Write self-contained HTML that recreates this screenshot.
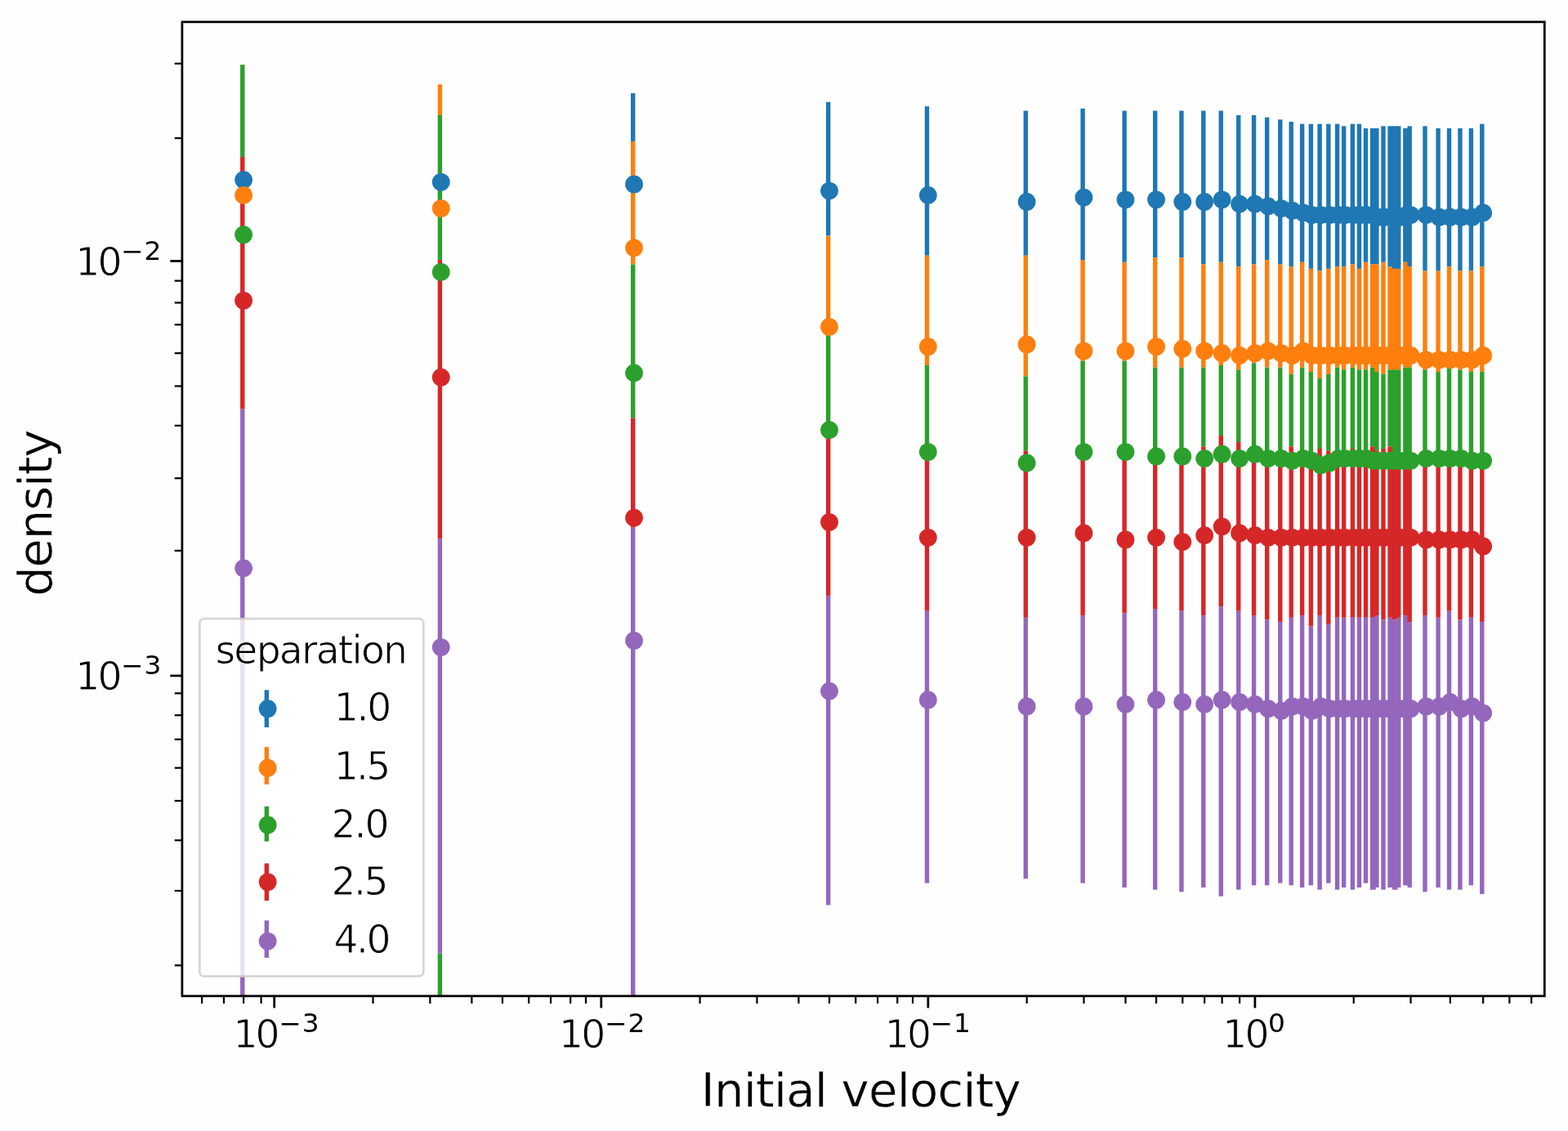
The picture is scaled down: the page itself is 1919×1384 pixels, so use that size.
<!DOCTYPE html>
<html lang="en"><head><meta charset="utf-8"><title>density vs initial velocity</title>
<style>html,body{margin:0;padding:0;background:#fefefe;}svg{display:block;}</style></head>
<body>
<svg width="1919" height="1384" viewBox="0 0 1919 1384">
<rect x="0" y="0" width="1919" height="1384" fill="#fefefe"/>
<g>
<g id="bars" shape-rendering="auto">
<rect x="294.07" y="79.16" width="5.40" height="112.77" fill="#2ca02c"/>
<rect x="294.07" y="191.93" width="5.40" height="308.77" fill="#d62728"/>
<rect x="294.07" y="500.70" width="5.40" height="718.14" fill="#9467bd"/>
<rect x="535.72" y="103.32" width="5.40" height="37.59" fill="#ff7f0e"/>
<rect x="535.72" y="140.91" width="5.40" height="177.21" fill="#2ca02c"/>
<rect x="535.72" y="318.12" width="5.40" height="341.00" fill="#d62728"/>
<rect x="535.72" y="659.12" width="5.40" height="507.46" fill="#9467bd"/>
<rect x="535.72" y="1166.58" width="5.40" height="52.26" fill="#2ca02c"/>
<rect x="772.00" y="114.06" width="5.40" height="59.07" fill="#1f77b4"/>
<rect x="772.00" y="173.13" width="5.40" height="150.36" fill="#ff7f0e"/>
<rect x="772.00" y="323.49" width="5.40" height="187.95" fill="#2ca02c"/>
<rect x="772.00" y="511.44" width="5.40" height="134.25" fill="#d62728"/>
<rect x="772.00" y="645.69" width="5.40" height="573.15" fill="#9467bd"/>
<rect x="1010.96" y="124.80" width="5.40" height="163.78" fill="#1f77b4"/>
<rect x="1010.96" y="288.59" width="5.40" height="120.83" fill="#ff7f0e"/>
<rect x="1010.96" y="409.41" width="5.40" height="126.20" fill="#2ca02c"/>
<rect x="1010.96" y="535.61" width="5.40" height="193.32" fill="#d62728"/>
<rect x="1010.96" y="728.93" width="5.40" height="378.59" fill="#9467bd"/>
<rect x="1131.79" y="130.17" width="5.40" height="182.58" fill="#1f77b4"/>
<rect x="1131.79" y="312.75" width="5.40" height="134.25" fill="#ff7f0e"/>
<rect x="1131.79" y="447.00" width="5.40" height="115.46" fill="#2ca02c"/>
<rect x="1131.79" y="562.46" width="5.40" height="185.26" fill="#d62728"/>
<rect x="1131.79" y="747.72" width="5.40" height="332.94" fill="#9467bd"/>
<rect x="1252.62" y="135.54" width="5.40" height="177.21" fill="#1f77b4"/>
<rect x="1252.62" y="312.75" width="5.40" height="147.68" fill="#ff7f0e"/>
<rect x="1252.62" y="460.43" width="5.40" height="91.29" fill="#2ca02c"/>
<rect x="1252.62" y="551.72" width="5.40" height="204.06" fill="#d62728"/>
<rect x="1252.62" y="755.78" width="5.40" height="319.51" fill="#9467bd"/>
<rect x="1322.42" y="132.86" width="5.40" height="185.27" fill="#1f77b4"/>
<rect x="1322.42" y="318.12" width="5.40" height="123.51" fill="#ff7f0e"/>
<rect x="1322.42" y="441.63" width="5.40" height="102.03" fill="#2ca02c"/>
<rect x="1322.42" y="543.66" width="5.40" height="209.43" fill="#d62728"/>
<rect x="1322.42" y="753.09" width="5.40" height="327.57" fill="#9467bd"/>
<rect x="1373.44" y="135.54" width="5.40" height="185.27" fill="#1f77b4"/>
<rect x="1373.44" y="320.81" width="5.40" height="120.82" fill="#ff7f0e"/>
<rect x="1373.44" y="441.63" width="5.40" height="110.09" fill="#2ca02c"/>
<rect x="1373.44" y="551.72" width="5.40" height="198.69" fill="#d62728"/>
<rect x="1373.44" y="750.41" width="5.40" height="335.62" fill="#9467bd"/>
<rect x="1411.03" y="135.54" width="5.40" height="179.90" fill="#1f77b4"/>
<rect x="1411.03" y="315.44" width="5.40" height="134.25" fill="#ff7f0e"/>
<rect x="1411.03" y="449.69" width="5.40" height="107.40" fill="#2ca02c"/>
<rect x="1411.03" y="557.09" width="5.40" height="187.95" fill="#d62728"/>
<rect x="1411.03" y="745.04" width="5.40" height="343.68" fill="#9467bd"/>
<rect x="1443.25" y="135.54" width="5.40" height="179.90" fill="#1f77b4"/>
<rect x="1443.25" y="315.44" width="5.40" height="134.25" fill="#ff7f0e"/>
<rect x="1443.25" y="449.69" width="5.40" height="107.40" fill="#2ca02c"/>
<rect x="1443.25" y="557.09" width="5.40" height="190.63" fill="#d62728"/>
<rect x="1443.25" y="747.72" width="5.40" height="343.68" fill="#9467bd"/>
<rect x="1470.10" y="135.54" width="5.40" height="187.95" fill="#1f77b4"/>
<rect x="1470.10" y="323.49" width="5.40" height="126.19" fill="#ff7f0e"/>
<rect x="1470.10" y="449.69" width="5.40" height="96.66" fill="#2ca02c"/>
<rect x="1470.10" y="546.35" width="5.40" height="206.75" fill="#d62728"/>
<rect x="1470.10" y="753.09" width="5.40" height="332.94" fill="#9467bd"/>
<rect x="1491.58" y="135.54" width="5.40" height="185.27" fill="#1f77b4"/>
<rect x="1491.58" y="320.81" width="5.40" height="126.19" fill="#ff7f0e"/>
<rect x="1491.58" y="447.00" width="5.40" height="85.92" fill="#2ca02c"/>
<rect x="1491.58" y="532.92" width="5.40" height="209.43" fill="#d62728"/>
<rect x="1491.58" y="742.35" width="5.40" height="354.42" fill="#9467bd"/>
<rect x="1513.06" y="140.91" width="5.40" height="185.27" fill="#1f77b4"/>
<rect x="1513.06" y="326.18" width="5.40" height="126.19" fill="#ff7f0e"/>
<rect x="1513.06" y="452.37" width="5.40" height="88.61" fill="#2ca02c"/>
<rect x="1513.06" y="540.98" width="5.40" height="206.75" fill="#d62728"/>
<rect x="1513.06" y="747.72" width="5.40" height="340.99" fill="#9467bd"/>
<rect x="1531.86" y="140.91" width="5.40" height="182.58" fill="#1f77b4"/>
<rect x="1531.86" y="323.49" width="5.40" height="120.82" fill="#ff7f0e"/>
<rect x="1531.86" y="444.32" width="5.40" height="107.40" fill="#2ca02c"/>
<rect x="1531.86" y="551.72" width="5.40" height="201.38" fill="#d62728"/>
<rect x="1531.86" y="753.09" width="5.40" height="330.25" fill="#9467bd"/>
<rect x="1547.97" y="143.60" width="5.40" height="174.53" fill="#1f77b4"/>
<rect x="1547.97" y="318.12" width="5.40" height="131.56" fill="#ff7f0e"/>
<rect x="1547.97" y="449.69" width="5.40" height="104.72" fill="#2ca02c"/>
<rect x="1547.97" y="554.40" width="5.40" height="204.06" fill="#d62728"/>
<rect x="1547.97" y="758.46" width="5.40" height="324.88" fill="#9467bd"/>
<rect x="1564.08" y="146.28" width="5.40" height="177.21" fill="#1f77b4"/>
<rect x="1564.08" y="323.49" width="5.40" height="126.19" fill="#ff7f0e"/>
<rect x="1564.08" y="449.69" width="5.40" height="104.72" fill="#2ca02c"/>
<rect x="1564.08" y="554.40" width="5.40" height="206.75" fill="#d62728"/>
<rect x="1564.08" y="761.15" width="5.40" height="319.52" fill="#9467bd"/>
<rect x="1577.50" y="148.97" width="5.40" height="177.21" fill="#1f77b4"/>
<rect x="1577.50" y="326.18" width="5.40" height="131.56" fill="#ff7f0e"/>
<rect x="1577.50" y="457.74" width="5.40" height="88.61" fill="#2ca02c"/>
<rect x="1577.50" y="546.35" width="5.40" height="209.43" fill="#d62728"/>
<rect x="1577.50" y="755.78" width="5.40" height="327.57" fill="#9467bd"/>
<rect x="1590.92" y="151.65" width="5.40" height="169.16" fill="#1f77b4"/>
<rect x="1590.92" y="320.81" width="5.40" height="128.88" fill="#ff7f0e"/>
<rect x="1590.92" y="449.69" width="5.40" height="104.72" fill="#2ca02c"/>
<rect x="1590.92" y="554.40" width="5.40" height="198.69" fill="#d62728"/>
<rect x="1590.92" y="753.09" width="5.40" height="332.94" fill="#9467bd"/>
<rect x="1601.66" y="151.65" width="5.40" height="177.21" fill="#1f77b4"/>
<rect x="1601.66" y="328.86" width="5.40" height="126.19" fill="#ff7f0e"/>
<rect x="1601.66" y="455.06" width="5.40" height="102.03" fill="#2ca02c"/>
<rect x="1601.66" y="557.09" width="5.40" height="209.43" fill="#d62728"/>
<rect x="1601.66" y="766.52" width="5.40" height="316.83" fill="#9467bd"/>
<rect x="1612.40" y="151.65" width="5.40" height="179.90" fill="#1f77b4"/>
<rect x="1612.40" y="331.55" width="5.40" height="131.56" fill="#ff7f0e"/>
<rect x="1612.40" y="463.11" width="5.40" height="85.92" fill="#2ca02c"/>
<rect x="1612.40" y="549.03" width="5.40" height="204.06" fill="#d62728"/>
<rect x="1612.40" y="753.09" width="5.40" height="335.62" fill="#9467bd"/>
<rect x="1623.14" y="151.65" width="5.40" height="177.21" fill="#1f77b4"/>
<rect x="1623.14" y="328.86" width="5.40" height="128.88" fill="#ff7f0e"/>
<rect x="1623.14" y="457.74" width="5.40" height="93.98" fill="#2ca02c"/>
<rect x="1623.14" y="551.72" width="5.40" height="212.12" fill="#d62728"/>
<rect x="1623.14" y="763.83" width="5.40" height="316.83" fill="#9467bd"/>
<rect x="1633.88" y="151.65" width="5.40" height="174.53" fill="#1f77b4"/>
<rect x="1633.88" y="326.18" width="5.40" height="123.51" fill="#ff7f0e"/>
<rect x="1633.88" y="449.69" width="5.40" height="104.72" fill="#2ca02c"/>
<rect x="1633.88" y="554.40" width="5.40" height="201.38" fill="#d62728"/>
<rect x="1633.88" y="755.78" width="5.40" height="332.94" fill="#9467bd"/>
<rect x="1641.94" y="154.34" width="5.40" height="171.84" fill="#1f77b4"/>
<rect x="1641.94" y="326.18" width="5.40" height="126.19" fill="#ff7f0e"/>
<rect x="1641.94" y="452.37" width="5.40" height="102.03" fill="#2ca02c"/>
<rect x="1641.94" y="554.40" width="5.40" height="201.38" fill="#d62728"/>
<rect x="1641.94" y="755.78" width="5.40" height="330.25" fill="#9467bd"/>
<rect x="1652.68" y="151.65" width="5.40" height="171.84" fill="#1f77b4"/>
<rect x="1652.68" y="323.49" width="5.40" height="126.19" fill="#ff7f0e"/>
<rect x="1652.68" y="449.69" width="5.40" height="99.35" fill="#2ca02c"/>
<rect x="1652.68" y="549.03" width="5.40" height="206.75" fill="#d62728"/>
<rect x="1652.68" y="755.78" width="5.40" height="332.94" fill="#9467bd"/>
<rect x="1660.74" y="151.65" width="5.40" height="177.21" fill="#1f77b4"/>
<rect x="1660.74" y="328.86" width="5.40" height="123.51" fill="#ff7f0e"/>
<rect x="1660.74" y="452.37" width="5.40" height="102.03" fill="#2ca02c"/>
<rect x="1660.74" y="554.40" width="5.40" height="201.38" fill="#d62728"/>
<rect x="1660.74" y="755.78" width="5.40" height="330.25" fill="#9467bd"/>
<rect x="1668.79" y="157.02" width="5.40" height="163.79" fill="#1f77b4"/>
<rect x="1668.79" y="320.81" width="5.40" height="131.56" fill="#ff7f0e"/>
<rect x="1668.79" y="452.37" width="5.40" height="102.03" fill="#2ca02c"/>
<rect x="1668.79" y="554.40" width="5.40" height="201.38" fill="#d62728"/>
<rect x="1668.79" y="755.78" width="5.40" height="324.89" fill="#9467bd"/>
<rect x="1676.85" y="157.02" width="6.87" height="166.47" fill="#1f77b4"/>
<rect x="1676.85" y="323.49" width="6.87" height="126.19" fill="#ff7f0e"/>
<rect x="1676.85" y="449.69" width="6.87" height="96.66" fill="#2ca02c"/>
<rect x="1676.85" y="546.35" width="6.87" height="209.43" fill="#d62728"/>
<rect x="1676.85" y="755.78" width="6.87" height="332.94" fill="#9467bd"/>
<rect x="1682.22" y="157.02" width="5.40" height="166.47" fill="#1f77b4"/>
<rect x="1682.22" y="323.49" width="5.40" height="131.56" fill="#ff7f0e"/>
<rect x="1682.22" y="455.06" width="5.40" height="96.66" fill="#2ca02c"/>
<rect x="1682.22" y="551.72" width="5.40" height="201.38" fill="#d62728"/>
<rect x="1682.22" y="753.09" width="5.40" height="332.94" fill="#9467bd"/>
<rect x="1690.27" y="154.34" width="5.40" height="166.47" fill="#1f77b4"/>
<rect x="1690.27" y="320.81" width="5.40" height="136.94" fill="#ff7f0e"/>
<rect x="1690.27" y="457.74" width="5.40" height="91.29" fill="#2ca02c"/>
<rect x="1690.27" y="549.03" width="5.40" height="209.43" fill="#d62728"/>
<rect x="1690.27" y="758.46" width="5.40" height="330.25" fill="#9467bd"/>
<rect x="1698.33" y="154.34" width="6.87" height="171.84" fill="#1f77b4"/>
<rect x="1698.33" y="326.18" width="6.87" height="126.19" fill="#ff7f0e"/>
<rect x="1698.33" y="452.37" width="6.87" height="93.98" fill="#2ca02c"/>
<rect x="1698.33" y="546.35" width="6.87" height="209.43" fill="#d62728"/>
<rect x="1698.33" y="755.78" width="6.87" height="330.25" fill="#9467bd"/>
<rect x="1703.70" y="154.34" width="6.87" height="174.53" fill="#1f77b4"/>
<rect x="1703.70" y="328.86" width="6.87" height="123.51" fill="#ff7f0e"/>
<rect x="1703.70" y="452.37" width="6.87" height="102.03" fill="#2ca02c"/>
<rect x="1703.70" y="554.40" width="6.87" height="204.06" fill="#d62728"/>
<rect x="1703.70" y="758.46" width="6.87" height="330.25" fill="#9467bd"/>
<rect x="1709.07" y="154.34" width="5.40" height="174.53" fill="#1f77b4"/>
<rect x="1709.07" y="328.86" width="5.40" height="123.51" fill="#ff7f0e"/>
<rect x="1709.07" y="452.37" width="5.40" height="102.03" fill="#2ca02c"/>
<rect x="1709.07" y="554.40" width="5.40" height="201.38" fill="#d62728"/>
<rect x="1709.07" y="755.78" width="5.40" height="330.25" fill="#9467bd"/>
<rect x="1717.12" y="157.02" width="6.87" height="163.79" fill="#1f77b4"/>
<rect x="1717.12" y="320.81" width="6.87" height="128.88" fill="#ff7f0e"/>
<rect x="1717.12" y="449.69" width="6.87" height="104.72" fill="#2ca02c"/>
<rect x="1717.12" y="554.40" width="6.87" height="198.69" fill="#d62728"/>
<rect x="1717.12" y="753.09" width="6.87" height="330.25" fill="#9467bd"/>
<rect x="1722.49" y="154.34" width="5.40" height="171.84" fill="#1f77b4"/>
<rect x="1722.49" y="326.18" width="5.40" height="123.51" fill="#ff7f0e"/>
<rect x="1722.49" y="449.69" width="5.40" height="104.72" fill="#2ca02c"/>
<rect x="1722.49" y="554.40" width="5.40" height="206.75" fill="#d62728"/>
<rect x="1722.49" y="761.15" width="5.40" height="324.88" fill="#9467bd"/>
<rect x="1741.29" y="154.34" width="5.40" height="177.21" fill="#1f77b4"/>
<rect x="1741.29" y="331.55" width="5.40" height="120.82" fill="#ff7f0e"/>
<rect x="1741.29" y="452.37" width="5.40" height="99.35" fill="#2ca02c"/>
<rect x="1741.29" y="551.72" width="5.40" height="201.38" fill="#d62728"/>
<rect x="1741.29" y="753.09" width="5.40" height="338.31" fill="#9467bd"/>
<rect x="1757.39" y="157.02" width="5.40" height="174.53" fill="#1f77b4"/>
<rect x="1757.39" y="331.55" width="5.40" height="123.51" fill="#ff7f0e"/>
<rect x="1757.39" y="455.06" width="5.40" height="99.35" fill="#2ca02c"/>
<rect x="1757.39" y="554.40" width="5.40" height="201.38" fill="#d62728"/>
<rect x="1757.39" y="755.78" width="5.40" height="330.25" fill="#9467bd"/>
<rect x="1770.82" y="157.02" width="5.40" height="169.16" fill="#1f77b4"/>
<rect x="1770.82" y="326.18" width="5.40" height="123.51" fill="#ff7f0e"/>
<rect x="1770.82" y="449.69" width="5.40" height="104.72" fill="#2ca02c"/>
<rect x="1770.82" y="554.40" width="5.40" height="193.32" fill="#d62728"/>
<rect x="1770.82" y="747.72" width="5.40" height="340.99" fill="#9467bd"/>
<rect x="1784.25" y="157.02" width="5.40" height="174.53" fill="#1f77b4"/>
<rect x="1784.25" y="331.55" width="5.40" height="120.82" fill="#ff7f0e"/>
<rect x="1784.25" y="452.37" width="5.40" height="102.03" fill="#2ca02c"/>
<rect x="1784.25" y="554.40" width="5.40" height="204.06" fill="#d62728"/>
<rect x="1784.25" y="758.46" width="5.40" height="330.25" fill="#9467bd"/>
<rect x="1797.67" y="157.02" width="5.40" height="174.53" fill="#1f77b4"/>
<rect x="1797.67" y="331.55" width="5.40" height="123.51" fill="#ff7f0e"/>
<rect x="1797.67" y="455.06" width="5.40" height="99.35" fill="#2ca02c"/>
<rect x="1797.67" y="554.40" width="5.40" height="201.38" fill="#d62728"/>
<rect x="1797.67" y="755.78" width="5.40" height="327.57" fill="#9467bd"/>
<rect x="1811.10" y="151.65" width="5.40" height="174.53" fill="#1f77b4"/>
<rect x="1811.10" y="326.18" width="5.40" height="128.88" fill="#ff7f0e"/>
<rect x="1811.10" y="455.06" width="5.40" height="99.35" fill="#2ca02c"/>
<rect x="1811.10" y="554.40" width="5.40" height="206.75" fill="#d62728"/>
<rect x="1811.10" y="761.15" width="5.40" height="332.94" fill="#9467bd"/>
</g>
<g id="markers">
<g fill="#1f77b4">
<circle cx="298.11" cy="220.12" r="10.9"/>
<circle cx="539.76" cy="222.81" r="10.9"/>
<circle cx="776.04" cy="225.49" r="10.9"/>
<circle cx="1015.00" cy="233.54" r="10.9"/>
<circle cx="1135.83" cy="238.91" r="10.9"/>
<circle cx="1256.65" cy="246.97" r="10.9"/>
<circle cx="1326.46" cy="241.60" r="10.9"/>
<circle cx="1377.48" cy="244.28" r="10.9"/>
<circle cx="1415.07" cy="244.28" r="10.9"/>
<circle cx="1447.29" cy="246.97" r="10.9"/>
<circle cx="1474.14" cy="246.97" r="10.9"/>
<circle cx="1495.62" cy="244.28" r="10.9"/>
<circle cx="1517.10" cy="249.66" r="10.9"/>
<circle cx="1535.89" cy="249.66" r="10.9"/>
<circle cx="1552.01" cy="252.34" r="10.9"/>
<circle cx="1568.12" cy="255.03" r="10.9"/>
<circle cx="1581.54" cy="257.71" r="10.9"/>
<circle cx="1594.96" cy="260.39" r="10.9"/>
<circle cx="1605.70" cy="263.08" r="10.9"/>
<circle cx="1616.44" cy="263.08" r="10.9"/>
<circle cx="1627.18" cy="263.08" r="10.9"/>
<circle cx="1637.92" cy="263.08" r="10.9"/>
<circle cx="1645.98" cy="263.08" r="10.9"/>
<circle cx="1656.72" cy="263.08" r="10.9"/>
<circle cx="1664.78" cy="263.08" r="10.9"/>
<circle cx="1672.83" cy="263.08" r="10.9"/>
<circle cx="1680.88" cy="263.08" r="10.9"/>
<circle cx="1686.26" cy="265.76" r="10.9"/>
<circle cx="1694.31" cy="265.76" r="10.9"/>
<circle cx="1702.37" cy="265.76" r="10.9"/>
<circle cx="1707.74" cy="265.76" r="10.9"/>
<circle cx="1713.11" cy="265.76" r="10.9"/>
<circle cx="1721.16" cy="263.08" r="10.9"/>
<circle cx="1726.53" cy="263.08" r="10.9"/>
<circle cx="1745.33" cy="263.08" r="10.9"/>
<circle cx="1761.43" cy="265.76" r="10.9"/>
<circle cx="1774.86" cy="265.76" r="10.9"/>
<circle cx="1788.29" cy="265.76" r="10.9"/>
<circle cx="1801.71" cy="265.76" r="10.9"/>
<circle cx="1815.13" cy="260.39" r="10.9"/>
</g>
<g fill="#ff7f0e">
<circle cx="298.11" cy="238.91" r="10.9"/>
<circle cx="539.76" cy="255.03" r="10.9"/>
<circle cx="776.04" cy="303.36" r="10.9"/>
<circle cx="1015.00" cy="400.01" r="10.9"/>
<circle cx="1135.83" cy="424.18" r="10.9"/>
<circle cx="1256.65" cy="421.50" r="10.9"/>
<circle cx="1326.46" cy="429.55" r="10.9"/>
<circle cx="1377.48" cy="429.55" r="10.9"/>
<circle cx="1415.07" cy="424.18" r="10.9"/>
<circle cx="1447.29" cy="426.87" r="10.9"/>
<circle cx="1474.14" cy="429.55" r="10.9"/>
<circle cx="1495.62" cy="432.24" r="10.9"/>
<circle cx="1517.10" cy="434.92" r="10.9"/>
<circle cx="1535.89" cy="432.24" r="10.9"/>
<circle cx="1552.01" cy="429.55" r="10.9"/>
<circle cx="1568.12" cy="432.24" r="10.9"/>
<circle cx="1581.54" cy="434.92" r="10.9"/>
<circle cx="1594.96" cy="429.55" r="10.9"/>
<circle cx="1605.70" cy="434.92" r="10.9"/>
<circle cx="1616.44" cy="434.92" r="10.9"/>
<circle cx="1627.18" cy="434.92" r="10.9"/>
<circle cx="1637.92" cy="434.92" r="10.9"/>
<circle cx="1645.98" cy="434.92" r="10.9"/>
<circle cx="1656.72" cy="434.92" r="10.9"/>
<circle cx="1664.78" cy="434.92" r="10.9"/>
<circle cx="1672.83" cy="434.92" r="10.9"/>
<circle cx="1680.88" cy="434.92" r="10.9"/>
<circle cx="1686.26" cy="434.92" r="10.9"/>
<circle cx="1694.31" cy="434.92" r="10.9"/>
<circle cx="1702.37" cy="434.92" r="10.9"/>
<circle cx="1707.74" cy="434.92" r="10.9"/>
<circle cx="1713.11" cy="434.92" r="10.9"/>
<circle cx="1721.16" cy="434.92" r="10.9"/>
<circle cx="1726.53" cy="434.92" r="10.9"/>
<circle cx="1745.33" cy="440.29" r="10.9"/>
<circle cx="1761.43" cy="440.29" r="10.9"/>
<circle cx="1774.86" cy="440.29" r="10.9"/>
<circle cx="1788.29" cy="440.29" r="10.9"/>
<circle cx="1801.71" cy="440.29" r="10.9"/>
<circle cx="1815.13" cy="434.92" r="10.9"/>
</g>
<g fill="#2ca02c">
<circle cx="298.11" cy="287.25" r="10.9"/>
<circle cx="539.76" cy="332.89" r="10.9"/>
<circle cx="776.04" cy="456.40" r="10.9"/>
<circle cx="1015.00" cy="526.21" r="10.9"/>
<circle cx="1135.83" cy="553.06" r="10.9"/>
<circle cx="1256.65" cy="566.49" r="10.9"/>
<circle cx="1326.46" cy="553.06" r="10.9"/>
<circle cx="1377.48" cy="553.06" r="10.9"/>
<circle cx="1415.07" cy="558.43" r="10.9"/>
<circle cx="1447.29" cy="558.43" r="10.9"/>
<circle cx="1474.14" cy="561.12" r="10.9"/>
<circle cx="1495.62" cy="555.75" r="10.9"/>
<circle cx="1517.10" cy="561.12" r="10.9"/>
<circle cx="1535.89" cy="555.75" r="10.9"/>
<circle cx="1552.01" cy="561.12" r="10.9"/>
<circle cx="1568.12" cy="561.12" r="10.9"/>
<circle cx="1581.54" cy="563.80" r="10.9"/>
<circle cx="1594.96" cy="561.12" r="10.9"/>
<circle cx="1605.70" cy="563.80" r="10.9"/>
<circle cx="1616.44" cy="569.17" r="10.9"/>
<circle cx="1627.18" cy="566.49" r="10.9"/>
<circle cx="1637.92" cy="561.12" r="10.9"/>
<circle cx="1645.98" cy="561.12" r="10.9"/>
<circle cx="1656.72" cy="561.12" r="10.9"/>
<circle cx="1664.78" cy="561.12" r="10.9"/>
<circle cx="1672.83" cy="561.12" r="10.9"/>
<circle cx="1680.88" cy="563.80" r="10.9"/>
<circle cx="1686.26" cy="563.80" r="10.9"/>
<circle cx="1694.31" cy="563.80" r="10.9"/>
<circle cx="1702.37" cy="563.80" r="10.9"/>
<circle cx="1707.74" cy="563.80" r="10.9"/>
<circle cx="1713.11" cy="563.80" r="10.9"/>
<circle cx="1721.16" cy="563.80" r="10.9"/>
<circle cx="1726.53" cy="563.80" r="10.9"/>
<circle cx="1745.33" cy="561.12" r="10.9"/>
<circle cx="1761.43" cy="561.12" r="10.9"/>
<circle cx="1774.86" cy="561.12" r="10.9"/>
<circle cx="1788.29" cy="561.12" r="10.9"/>
<circle cx="1801.71" cy="563.80" r="10.9"/>
<circle cx="1815.13" cy="563.80" r="10.9"/>
</g>
<g fill="#d62728">
<circle cx="298.11" cy="367.80" r="10.9"/>
<circle cx="539.76" cy="461.77" r="10.9"/>
<circle cx="776.04" cy="633.61" r="10.9"/>
<circle cx="1015.00" cy="638.98" r="10.9"/>
<circle cx="1135.83" cy="657.78" r="10.9"/>
<circle cx="1256.65" cy="657.78" r="10.9"/>
<circle cx="1326.46" cy="652.41" r="10.9"/>
<circle cx="1377.48" cy="660.46" r="10.9"/>
<circle cx="1415.07" cy="657.78" r="10.9"/>
<circle cx="1447.29" cy="663.15" r="10.9"/>
<circle cx="1474.14" cy="655.09" r="10.9"/>
<circle cx="1495.62" cy="644.35" r="10.9"/>
<circle cx="1517.10" cy="652.41" r="10.9"/>
<circle cx="1535.89" cy="655.09" r="10.9"/>
<circle cx="1552.01" cy="657.78" r="10.9"/>
<circle cx="1568.12" cy="657.78" r="10.9"/>
<circle cx="1581.54" cy="657.78" r="10.9"/>
<circle cx="1594.96" cy="657.78" r="10.9"/>
<circle cx="1605.70" cy="657.78" r="10.9"/>
<circle cx="1616.44" cy="657.78" r="10.9"/>
<circle cx="1627.18" cy="657.78" r="10.9"/>
<circle cx="1637.92" cy="657.78" r="10.9"/>
<circle cx="1645.98" cy="657.78" r="10.9"/>
<circle cx="1656.72" cy="657.78" r="10.9"/>
<circle cx="1664.78" cy="657.78" r="10.9"/>
<circle cx="1672.83" cy="657.78" r="10.9"/>
<circle cx="1680.88" cy="657.78" r="10.9"/>
<circle cx="1686.26" cy="657.78" r="10.9"/>
<circle cx="1694.31" cy="657.78" r="10.9"/>
<circle cx="1702.37" cy="657.78" r="10.9"/>
<circle cx="1707.74" cy="657.78" r="10.9"/>
<circle cx="1713.11" cy="657.78" r="10.9"/>
<circle cx="1721.16" cy="657.78" r="10.9"/>
<circle cx="1726.53" cy="657.78" r="10.9"/>
<circle cx="1745.33" cy="660.46" r="10.9"/>
<circle cx="1761.43" cy="660.46" r="10.9"/>
<circle cx="1774.86" cy="660.46" r="10.9"/>
<circle cx="1788.29" cy="660.46" r="10.9"/>
<circle cx="1801.71" cy="660.46" r="10.9"/>
<circle cx="1815.13" cy="668.52" r="10.9"/>
</g>
<g fill="#9467bd">
<circle cx="298.11" cy="695.37" r="10.9"/>
<circle cx="539.76" cy="792.03" r="10.9"/>
<circle cx="776.04" cy="783.97" r="10.9"/>
<circle cx="1015.00" cy="845.73" r="10.9"/>
<circle cx="1135.83" cy="856.47" r="10.9"/>
<circle cx="1256.65" cy="864.52" r="10.9"/>
<circle cx="1326.46" cy="864.52" r="10.9"/>
<circle cx="1377.48" cy="861.84" r="10.9"/>
<circle cx="1415.07" cy="856.47" r="10.9"/>
<circle cx="1447.29" cy="859.15" r="10.9"/>
<circle cx="1474.14" cy="861.84" r="10.9"/>
<circle cx="1495.62" cy="856.47" r="10.9"/>
<circle cx="1517.10" cy="859.15" r="10.9"/>
<circle cx="1535.89" cy="861.84" r="10.9"/>
<circle cx="1552.01" cy="867.21" r="10.9"/>
<circle cx="1568.12" cy="869.89" r="10.9"/>
<circle cx="1581.54" cy="864.52" r="10.9"/>
<circle cx="1594.96" cy="864.52" r="10.9"/>
<circle cx="1605.70" cy="869.89" r="10.9"/>
<circle cx="1616.44" cy="864.52" r="10.9"/>
<circle cx="1627.18" cy="867.21" r="10.9"/>
<circle cx="1637.92" cy="867.21" r="10.9"/>
<circle cx="1645.98" cy="867.21" r="10.9"/>
<circle cx="1656.72" cy="867.21" r="10.9"/>
<circle cx="1664.78" cy="867.21" r="10.9"/>
<circle cx="1672.83" cy="867.21" r="10.9"/>
<circle cx="1680.88" cy="867.21" r="10.9"/>
<circle cx="1686.26" cy="867.21" r="10.9"/>
<circle cx="1694.31" cy="867.21" r="10.9"/>
<circle cx="1702.37" cy="867.21" r="10.9"/>
<circle cx="1707.74" cy="867.21" r="10.9"/>
<circle cx="1713.11" cy="867.21" r="10.9"/>
<circle cx="1721.16" cy="867.21" r="10.9"/>
<circle cx="1726.53" cy="867.21" r="10.9"/>
<circle cx="1745.33" cy="864.52" r="10.9"/>
<circle cx="1761.43" cy="864.52" r="10.9"/>
<circle cx="1774.86" cy="859.15" r="10.9"/>
<circle cx="1788.29" cy="867.21" r="10.9"/>
<circle cx="1801.71" cy="864.52" r="10.9"/>
<circle cx="1815.13" cy="872.58" r="10.9"/>
</g>
</g>
<rect x="244.335" y="757.12" width="273.9" height="437.6" rx="5.5" ry="5.5" fill="#ffffff" fill-opacity="0.8" stroke="#cccccc" stroke-opacity="0.8" stroke-width="2.8"/>
<text x="263.50" y="811.90" font-family="DejaVu Sans, Liberation Sans, sans-serif" font-size="47.2" letter-spacing="-1.740" fill="#000" stroke="#fefefe" stroke-width="0.9" stroke-linejoin="round">separation</text>
<rect x="323.61" y="844.38" width="5.4" height="45.65" fill="#1f77b4"/>
<circle cx="327.65" cy="867.21" r="10.9" fill="#1f77b4"/>
<text x="408.80" y="882.10" font-family="DejaVu Sans, Liberation Sans, sans-serif" font-size="47.2" letter-spacing="-2.300" fill="#000" stroke="#fefefe" stroke-width="0.9" stroke-linejoin="round">1.0</text>
<rect x="323.61" y="914.19" width="5.4" height="45.65" fill="#ff7f0e"/>
<circle cx="327.65" cy="939.70" r="10.9" fill="#ff7f0e"/>
<text x="408.80" y="954.40" font-family="DejaVu Sans, Liberation Sans, sans-serif" font-size="47.2" letter-spacing="-2.800" fill="#000" stroke="#fefefe" stroke-width="0.9" stroke-linejoin="round">1.5</text>
<rect x="323.61" y="986.69" width="5.4" height="42.96" fill="#2ca02c"/>
<circle cx="327.65" cy="1009.51" r="10.9" fill="#2ca02c"/>
<text x="405.40" y="1024.50" font-family="DejaVu Sans, Liberation Sans, sans-serif" font-size="47.2" letter-spacing="-2.000" fill="#000" stroke="#fefefe" stroke-width="0.9" stroke-linejoin="round">2.0</text>
<rect x="323.61" y="1056.50" width="5.4" height="45.65" fill="#d62728"/>
<circle cx="327.65" cy="1079.32" r="10.9" fill="#d62728"/>
<text x="405.40" y="1094.50" font-family="DejaVu Sans, Liberation Sans, sans-serif" font-size="47.2" letter-spacing="-2.400" fill="#000" stroke="#fefefe" stroke-width="0.9" stroke-linejoin="round">2.5</text>
<rect x="323.61" y="1126.31" width="5.4" height="45.65" fill="#9467bd"/>
<circle cx="327.65" cy="1151.82" r="10.9" fill="#9467bd"/>
<text x="408.60" y="1166.40" font-family="DejaVu Sans, Liberation Sans, sans-serif" font-size="47.2" letter-spacing="-2.600" fill="#000" stroke="#fefefe" stroke-width="0.9" stroke-linejoin="round">4.0</text>
<g stroke="#000" fill="none">
<rect x="222.90500000000003" y="26.85" width="1667.38" height="1191.99" stroke-width="2.75"/>
<line x1="247.10" y1="1218.84" x2="247.10" y2="1228.04" stroke-width="2.2"/>
<line x1="273.95" y1="1218.84" x2="273.95" y2="1228.04" stroke-width="2.2"/>
<line x1="298.12" y1="1218.84" x2="298.12" y2="1228.04" stroke-width="2.2"/>
<line x1="319.59" y1="1218.84" x2="319.59" y2="1228.04" stroke-width="2.2"/>
<line x1="335.70" y1="1218.84" x2="335.70" y2="1233.4399999999998" stroke-width="2.75"/>
<line x1="456.53" y1="1218.84" x2="456.53" y2="1228.04" stroke-width="2.2"/>
<line x1="526.34" y1="1218.84" x2="526.34" y2="1228.04" stroke-width="2.2"/>
<line x1="577.36" y1="1218.84" x2="577.36" y2="1228.04" stroke-width="2.2"/>
<line x1="614.95" y1="1218.84" x2="614.95" y2="1228.04" stroke-width="2.2"/>
<line x1="647.17" y1="1218.84" x2="647.17" y2="1228.04" stroke-width="2.2"/>
<line x1="674.02" y1="1218.84" x2="674.02" y2="1228.04" stroke-width="2.2"/>
<line x1="698.18" y1="1218.84" x2="698.18" y2="1228.04" stroke-width="2.2"/>
<line x1="716.98" y1="1218.84" x2="716.98" y2="1228.04" stroke-width="2.2"/>
<line x1="735.77" y1="1218.84" x2="735.77" y2="1233.4399999999998" stroke-width="2.75"/>
<line x1="856.60" y1="1218.84" x2="856.60" y2="1228.04" stroke-width="2.2"/>
<line x1="926.41" y1="1218.84" x2="926.41" y2="1228.04" stroke-width="2.2"/>
<line x1="977.42" y1="1218.84" x2="977.42" y2="1228.04" stroke-width="2.2"/>
<line x1="1015.01" y1="1218.84" x2="1015.01" y2="1228.04" stroke-width="2.2"/>
<line x1="1047.23" y1="1218.84" x2="1047.23" y2="1228.04" stroke-width="2.2"/>
<line x1="1074.08" y1="1218.84" x2="1074.08" y2="1228.04" stroke-width="2.2"/>
<line x1="1098.24" y1="1218.84" x2="1098.24" y2="1228.04" stroke-width="2.2"/>
<line x1="1117.04" y1="1218.84" x2="1117.04" y2="1228.04" stroke-width="2.2"/>
<line x1="1135.84" y1="1218.84" x2="1135.84" y2="1233.4399999999998" stroke-width="2.75"/>
<line x1="1256.66" y1="1218.84" x2="1256.66" y2="1228.04" stroke-width="2.2"/>
<line x1="1326.47" y1="1218.84" x2="1326.47" y2="1228.04" stroke-width="2.2"/>
<line x1="1377.48" y1="1218.84" x2="1377.48" y2="1228.04" stroke-width="2.2"/>
<line x1="1415.08" y1="1218.84" x2="1415.08" y2="1228.04" stroke-width="2.2"/>
<line x1="1447.29" y1="1218.84" x2="1447.29" y2="1228.04" stroke-width="2.2"/>
<line x1="1474.14" y1="1218.84" x2="1474.14" y2="1228.04" stroke-width="2.2"/>
<line x1="1495.62" y1="1218.84" x2="1495.62" y2="1228.04" stroke-width="2.2"/>
<line x1="1517.11" y1="1218.84" x2="1517.11" y2="1228.04" stroke-width="2.2"/>
<line x1="1535.90" y1="1218.84" x2="1535.90" y2="1233.4399999999998" stroke-width="2.75"/>
<line x1="1656.72" y1="1218.84" x2="1656.72" y2="1228.04" stroke-width="2.2"/>
<line x1="1726.53" y1="1218.84" x2="1726.53" y2="1228.04" stroke-width="2.2"/>
<line x1="1774.87" y1="1218.84" x2="1774.87" y2="1228.04" stroke-width="2.2"/>
<line x1="1815.14" y1="1218.84" x2="1815.14" y2="1228.04" stroke-width="2.2"/>
<line x1="1847.36" y1="1218.84" x2="1847.36" y2="1228.04" stroke-width="2.2"/>
<line x1="1874.21" y1="1218.84" x2="1874.21" y2="1228.04" stroke-width="2.2"/>
<line x1="222.90500000000003" y1="1181.32" x2="213.70500000000004" y2="1181.32" stroke-width="2.2"/>
<line x1="222.90500000000003" y1="1090.03" x2="213.70500000000004" y2="1090.03" stroke-width="2.2"/>
<line x1="222.90500000000003" y1="1028.28" x2="213.70500000000004" y2="1028.28" stroke-width="2.2"/>
<line x1="222.90500000000003" y1="979.94" x2="213.70500000000004" y2="979.94" stroke-width="2.2"/>
<line x1="222.90500000000003" y1="939.67" x2="213.70500000000004" y2="939.67" stroke-width="2.2"/>
<line x1="222.90500000000003" y1="904.76" x2="213.70500000000004" y2="904.76" stroke-width="2.2"/>
<line x1="222.90500000000003" y1="875.23" x2="213.70500000000004" y2="875.23" stroke-width="2.2"/>
<line x1="222.90500000000003" y1="848.38" x2="213.70500000000004" y2="848.38" stroke-width="2.2"/>
<line x1="222.90500000000003" y1="826.90" x2="208.30500000000004" y2="826.90" stroke-width="2.75"/>
<line x1="222.90500000000003" y1="673.86" x2="213.70500000000004" y2="673.86" stroke-width="2.2"/>
<line x1="222.90500000000003" y1="585.25" x2="213.70500000000004" y2="585.25" stroke-width="2.2"/>
<line x1="222.90500000000003" y1="520.81" x2="213.70500000000004" y2="520.81" stroke-width="2.2"/>
<line x1="222.90500000000003" y1="472.48" x2="213.70500000000004" y2="472.48" stroke-width="2.2"/>
<line x1="222.90500000000003" y1="432.21" x2="213.70500000000004" y2="432.21" stroke-width="2.2"/>
<line x1="222.90500000000003" y1="397.30" x2="213.70500000000004" y2="397.30" stroke-width="2.2"/>
<line x1="222.90500000000003" y1="370.45" x2="213.70500000000004" y2="370.45" stroke-width="2.2"/>
<line x1="222.90500000000003" y1="343.60" x2="213.70500000000004" y2="343.60" stroke-width="2.2"/>
<line x1="222.90500000000003" y1="319.44" x2="208.30500000000004" y2="319.44" stroke-width="2.75"/>
<line x1="222.90500000000003" y1="169.07" x2="213.70500000000004" y2="169.07" stroke-width="2.2"/>
<line x1="222.90500000000003" y1="77.78" x2="213.70500000000004" y2="77.78" stroke-width="2.2"/>
</g>
<text x="285.40" y="1282.30" font-family="DejaVu Sans, Liberation Sans, sans-serif" font-size="47.2" letter-spacing="-2.800" fill="#000" stroke="#fefefe" stroke-width="0.9" stroke-linejoin="round">10</text>
<text transform="translate(341.30,1263.20) scale(1,0.955)" font-family="DejaVu Sans, Liberation Sans, sans-serif" font-size="32.8" letter-spacing="1.000" fill="#000">−3</text>
<text x="684.00" y="1282.30" font-family="DejaVu Sans, Liberation Sans, sans-serif" font-size="47.2" letter-spacing="-2.800" fill="#000" stroke="#fefefe" stroke-width="0.9" stroke-linejoin="round">10</text>
<text transform="translate(739.90,1263.20) scale(1,0.955)" font-family="DejaVu Sans, Liberation Sans, sans-serif" font-size="32.8" letter-spacing="1.000" fill="#000">−2</text>
<text x="1082.70" y="1282.30" font-family="DejaVu Sans, Liberation Sans, sans-serif" font-size="47.2" letter-spacing="-2.800" fill="#000" stroke="#fefefe" stroke-width="0.9" stroke-linejoin="round">10</text>
<text transform="translate(1138.60,1263.20) scale(1,0.955)" font-family="DejaVu Sans, Liberation Sans, sans-serif" font-size="32.8" letter-spacing="1.000" fill="#000">−1</text>
<text x="1496.30" y="1282.30" font-family="DejaVu Sans, Liberation Sans, sans-serif" font-size="47.2" letter-spacing="-2.800" fill="#000" stroke="#fefefe" stroke-width="0.9" stroke-linejoin="round">10</text>
<text transform="translate(1552.00,1263.20) scale(1,0.955)" font-family="DejaVu Sans, Liberation Sans, sans-serif" font-size="32.8" letter-spacing="0.000" fill="#000">0</text>
<text x="92.30" y="337.10" font-family="DejaVu Sans, Liberation Sans, sans-serif" font-size="47.2" letter-spacing="-2.800" fill="#000" stroke="#fefefe" stroke-width="0.9" stroke-linejoin="round">10</text>
<text transform="translate(148.10,318.00) scale(1,0.955)" font-family="DejaVu Sans, Liberation Sans, sans-serif" font-size="32.8" letter-spacing="1.000" fill="#000">−2</text>
<text x="92.30" y="844.30" font-family="DejaVu Sans, Liberation Sans, sans-serif" font-size="47.2" letter-spacing="-2.800" fill="#000" stroke="#fefefe" stroke-width="0.9" stroke-linejoin="round">10</text>
<text transform="translate(148.10,825.20) scale(1,0.955)" font-family="DejaVu Sans, Liberation Sans, sans-serif" font-size="32.8" letter-spacing="1.000" fill="#000">−3</text>
<text x="857.70" y="1353.60" font-family="DejaVu Sans, Liberation Sans, sans-serif" font-size="57.6" letter-spacing="-0.720" fill="#000" stroke="#fefefe" stroke-width="0.5" stroke-linejoin="round">Initial velocity</text>
<text transform="translate(62.60,729.80) rotate(-90)" font-family="DejaVu Sans, Liberation Sans, sans-serif" font-size="57.6" letter-spacing="-1.170" fill="#000" stroke="#fefefe" stroke-width="0.5" stroke-linejoin="round">density</text>
</g>
</svg>
</body></html>
